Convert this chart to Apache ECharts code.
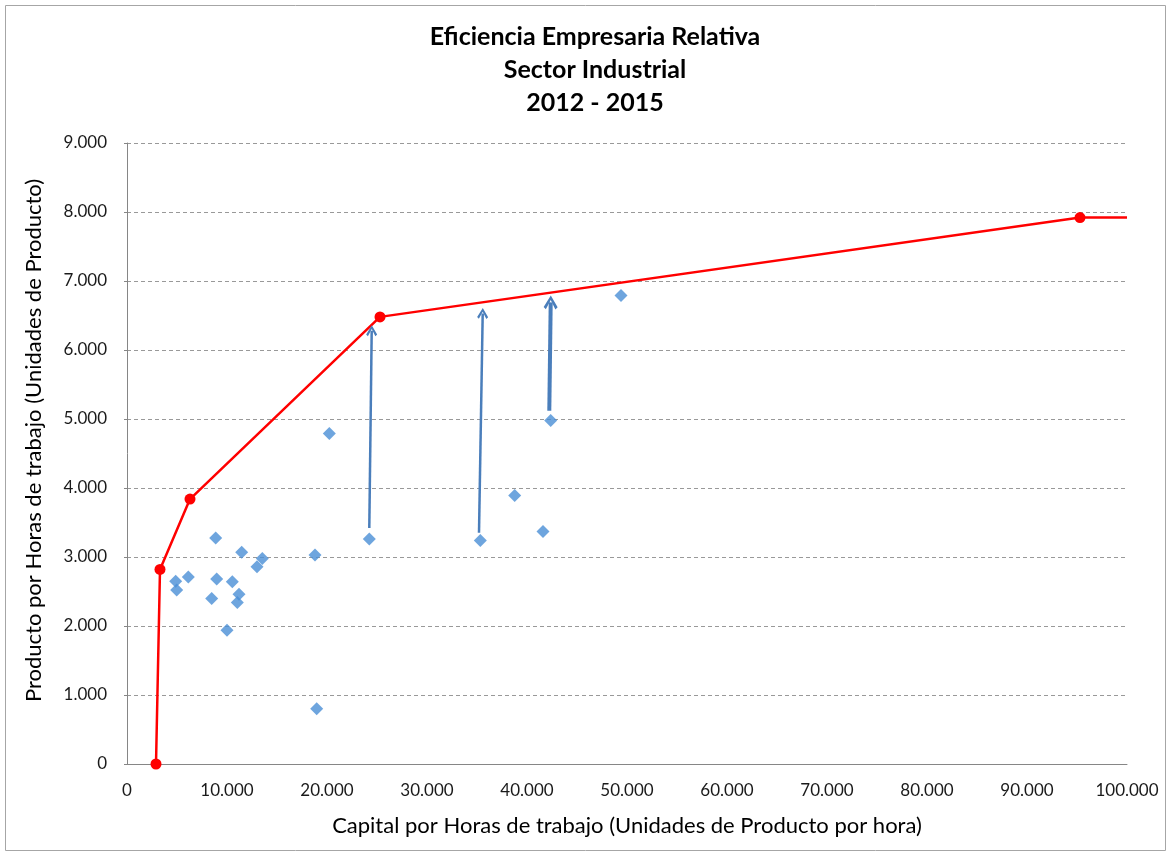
<!DOCTYPE html>
<html>
<head>
<meta charset="utf-8">
<script src="https://cdn.jsdelivr.net/npm/echarts@6/dist/echarts.min.js"></script>
<style>
html,body{margin:0;padding:0;background:#fff;}
#chart{width:1172px;height:857px;}
</style>
</head>
<body>
<div id="chart"></div>
<script>
// Frontier (efficient firms)
var frontierX = [2900, 3300, 6300, 25300, 95300, 100000];
var frontierY = [0, 2820, 3840, 6480, 7920, 7920];
// Firms
var firmX = [4870, 4970, 6130, 8470, 8870, 8970, 10000, 10530, 11030, 11200, 11470, 13000, 13530, 18800, 18970, 20230, 24230, 35330, 38770, 41600, 42370, 49400];
var firmY = [2650, 2520, 2710, 2400, 3275, 2680, 1940, 2640, 2340, 2460, 3070, 2860, 2980, 3030, 800, 4790, 3260, 3240, 3890, 3370, 4980, 6790];
// Arrows
var arrowFromX = [24230, 35200, 42230];
var arrowFromY = [3420, 3350, 5120];
var arrowToX = [24470, 35570, 42370];
var arrowToY = [6280, 6530, 6690];
var arrowWidth = [2.5, 2.5, 4];
var arrowHead = [[12, 11], [12, 11], [16, 14]];
// Ticks
var xTicks = [0, 10000, 20000, 30000, 40000, 50000, 60000, 70000, 80000, 90000, 100000];
var yTicks = [0, 1000, 2000, 3000, 4000, 5000, 6000, 7000, 8000, 9000];

var titleLines = ['Eficiencia Empresaria Relativa', 'Sector Industrial', '2012 - 2015'];
var xName = 'Capital por Horas de trabajo (Unidades de Producto por hora)';
var yName = 'Producto por Horas de trabajo (Unidades de Producto)';

function fmt(v){ return v === 0 ? '0' : (v/1000) + '.000'; }

var FONT = 'Lato, "Open Sans", sans-serif';
var chart = echarts.init(document.getElementById('chart'), null, {renderer:'canvas'});

var frontierData = frontierX.map(function(x,i){
  var d = {value:[x, frontierY[i]]};
  if (i === frontierX.length-1) d.symbolSize = 0;
  return d;
});
var firmData = firmX.map(function(x,i){ return [x, firmY[i]]; });
var arrowData = arrowFromX.map(function(x,i){
  return {
    coords: [[x, arrowFromY[i]], [arrowToX[i], arrowToY[i]]],
    lineStyle: {width: arrowWidth[i]},
    symbolSize: arrowHead[i]
  };
});

chart.setOption({
  backgroundColor: '#fff',
  animation: false,
  title: {
    text: titleLines.join('\n'),
    left: 590, top: 15, textAlign: 'center',
    textStyle: {fontFamily: FONT, fontSize: 25, fontWeight: 'bold', color: '#000', lineHeight: 33}
  },
  graphic: [{
    type: 'rect', shape: {x: 5.5, y: 5.5, width: 1160, height: 845},
    style: {fill: 'none', stroke: '#a6a6a6', lineWidth: 1}, silent: true, z: -1
  }],
  grid: {left: 127, right: 45, top: 143, bottom: 93, containLabel: false},
  xAxis: {
    type: 'value', min: 0, max: 100000, interval: 10000,
    name: xName, nameLocation: 'middle', nameGap: 51,
    nameTextStyle: {fontFamily: FONT, fontSize: 22, color: '#000'},
    axisLine: {show: true, lineStyle: {color: '#868686', width: 1}},
    axisTick: {show: false},
    splitLine: {show: false},
    axisLabel: {formatter: fmt, fontFamily: FONT, fontSize: 17, color: '#1a1a1a', margin: 18}
  },
  yAxis: {
    type: 'value', min: 0, max: 9000, interval: 1000,
    name: yName, nameLocation: 'middle', nameGap: 82, nameRotate: 90,
    nameTextStyle: {fontFamily: FONT, fontSize: 22, color: '#000', padding: [0, 0, 0, 26]},
    axisLine: {show: true, lineStyle: {color: '#868686', width: 1}},
    axisTick: {show: true, length: 3, lineStyle: {color: '#868686'}},
    splitLine: {show: true, lineStyle: {color: '#999', type: [4, 3], width: 1}},
    axisLabel: {formatter: fmt, fontFamily: FONT, fontSize: 17, color: '#1a1a1a', margin: 20}
  },
  series: [
    {
      type: 'line', data: frontierData, symbol: 'circle', symbolSize: 11,
      lineStyle: {color: '#ff0000', width: 2.5},
      itemStyle: {color: '#ff0000'}, z: 3
    },
    {
      type: 'scatter', data: firmData, symbol: 'diamond', symbolSize: [13, 13],
      itemStyle: {color: '#4a8fd6'}, z: 4
    },
    {
      type: 'lines', coordinateSystem: 'cartesian2d', polyline: false,
      symbol: ['none', 'path://M0,8 L5,0 L10,8 L8.4,9.5 L5,3.2 L1.6,9.5 Z'],
      lineStyle: {color: '#4a7ebb', opacity: 1, curveness: 0},
      data: arrowData, z: 5
    }
  ]
});
</script>
</body>
</html>
